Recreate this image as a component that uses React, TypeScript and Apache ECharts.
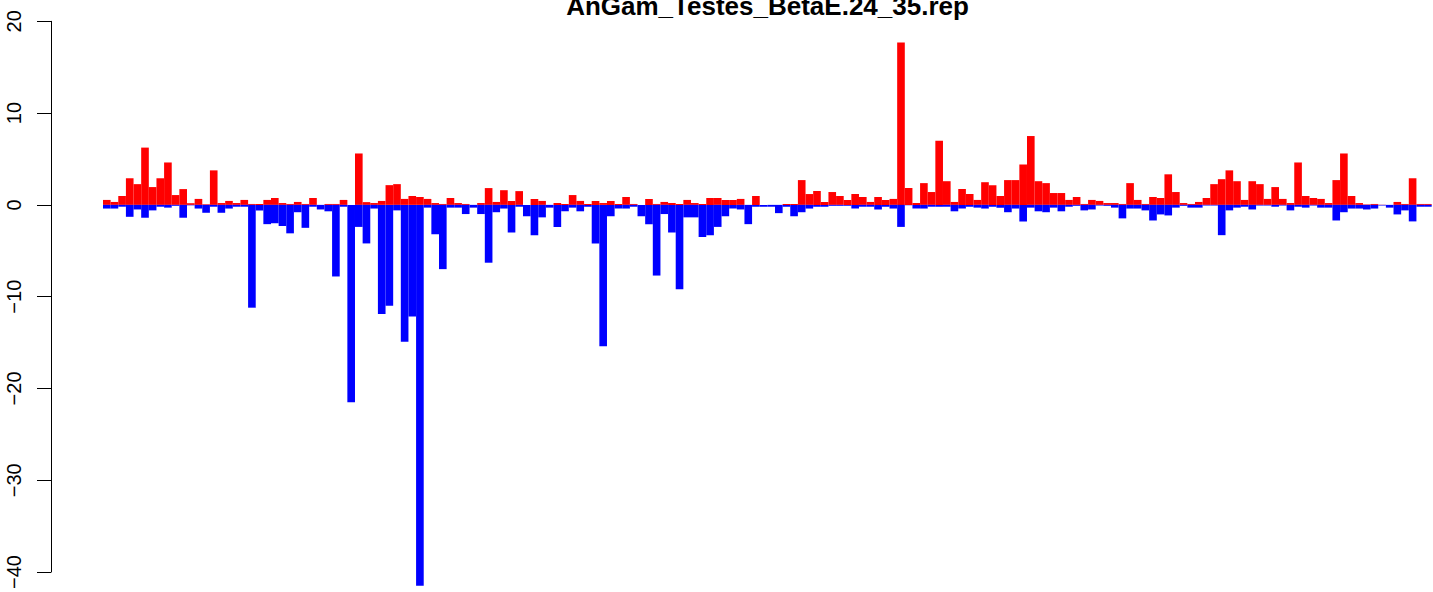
import React, { useEffect, useRef } from "react";
import * as echarts from "echarts";

const titleText = "AnGam_Testes_BetaE.24_35.rep";
const yTicks = [-40, -30, -20, -10, 0, 10, 20];

const redValues = [
  0.54, 0.32, 0.97, 2.9, 2.26, 6.24, 1.94, 2.9, 4.62, 1.07,
  1.72, 0.18, 0.65, 0.07, 3.76, 0.2, 0.43, 0.2, 0.54, 0.1,
  0.1, 0.54, 0.75, 0.2, 0.1, 0.32, 0.1, 0.75, 0, 0.1,
  0.1, 0.54, 0, 5.6, 0.3, 0.2, 0.43, 2.15, 2.26, 0.65,
  0.97, 0.86, 0.65, 0.2, 0.1, 0.75, 0.2, 0.1, 0, 0.2,
  1.83, 0.32, 1.6, 0.43, 1.5, 0, 0.65, 0.43, 0, 0.2,
  0.1, 1.07, 0.43, 0.1, 0.43, 0.2, 0.43, 0.1, 0.86, 0.1,
  0, 0.65, 0.1, 0.32, 0.2, 0.1, 0.54, 0.2, 0.1, 0.75,
  0.75, 0.54, 0.54, 0.65, 0, 0.97, 0, 0, 0, 0.1,
  0.1, 2.7, 1.18, 1.5, 0.32, 1.4, 0.97, 0.54, 1.18, 0.86,
  0.32, 0.86, 0.54, 0.65, 17.7, 1.83, 0.2, 2.37, 1.4, 7.0,
  2.58, 0.32, 1.72, 1.18, 0.54, 2.47, 2.15, 0.97, 2.7, 2.7,
  4.4, 7.5, 2.58, 2.37, 1.29, 1.29, 0.54, 0.86, 0.1, 0.54,
  0.43, 0.2, 0.2, 0.1, 2.37, 0.54, 0.1, 0.86, 0.75, 3.33,
  1.4, 0.2, 0.1, 0.32, 0.75, 2.26, 2.8, 3.76, 2.58, 0.54,
  2.58, 2.26, 0.65, 1.94, 0.65, 0.2, 4.62, 0.97, 0.75, 0.65,
  0.2, 2.7, 5.6, 0.97, 0.2, 0.05, 0.1, 0.02, 0, 0.32,
  0.1, 2.9, 0.1, 0.1,
];

const blueValues = [
  -0.4, -0.4, -0.2, -1.3, -0.5, -1.4, -0.6, -0.2, -0.3, -0.1,
  -1.4, -0.05, -0.4, -0.86, -0.2, -0.86, -0.4, -0.2, -0.2, -11.2,
  -0.6, -2.1, -2.0, -2.3, -3.1, -0.8, -2.5, -0.2, -0.5, -0.7,
  -7.8, -0.2, -21.5, -2.4, -4.2, -0.4, -11.9, -11.0, -0.6, -14.9,
  -12.15, -41.5, -0.3, -3.2, -7.0, -0.3, -0.3, -1.0, -0.3, -1.0,
  -6.3, -0.8, -0.4, -3.0, -0.2, -1.25, -3.3, -1.36, -0.3, -2.4,
  -0.7, -0.3, -0.7, -0.2, -4.2, -15.4, -1.25, -0.4, -0.4, -0.2,
  -1.25, -2.1, -7.7, -1.0, -3.0, -9.2, -1.36, -1.36, -3.5, -3.3,
  -2.4, -1.25, -0.4, -0.5, -2.1, -0.2, -0.2, -0.2, -0.9, -0.2,
  -1.25, -0.8, -0.4, -0.2, -0.2, -0.1, -0.1, -0.1, -0.4, -0.2,
  -0.2, -0.5, -0.2, -0.4, -2.4, -0.05, -0.4, -0.4, -0.2, -0.2,
  -0.2, -0.7, -0.4, -0.2, -0.3, -0.4, -0.2, -0.3, -0.8, -0.4,
  -1.8, -0.3, -0.7, -0.8, -0.3, -0.7, -0.2, -0.1, -0.6, -0.5,
  -0.07, -0.1, -0.3, -1.47, -0.4, -0.4, -0.6, -1.7, -1.04, -1.15,
  -0.3, -0.1, -0.3, -0.3, -0.07, -0.07, -3.3, -0.6, -0.3, -0.2,
  -0.5, -0.07, -0.07, -0.2, -0.07, -0.6, -0.2, -0.3, -0.07, -0.3,
  -0.3, -1.7, -0.8, -0.4, -0.4, -0.5, -0.4, -0.07, -0.3, -1.04,
  -0.6, -1.8, -0.2, -0.2,
];

const categories = redValues.map((_, i) => String(i + 1));

export default function App() {
  const ref = useRef<HTMLDivElement>(null);
  useEffect(() => {
    if (!ref.current) return;
    const chart = echarts.init(ref.current, null, { renderer: "svg" });
    const font = "'Liberation Sans', Arial, Helvetica, sans-serif";
    chart.setOption({
      animation: false,
      backgroundColor: "#ffffff",
      grid: { left: 103, right: 1.3, top: 21.3, bottom: 13.7, containLabel: false },
      xAxis: {
        type: "category",
        data: categories,
        show: false,
        boundaryGap: true,
      },
      yAxis: {
        type: "value",
        min: yTicks[0],
        max: yTicks[yTicks.length - 1],
        interval: 10,
        offset: 52,
        splitLine: { show: false },
        axisLine: { show: true, lineStyle: { color: "#000", width: 1 } },
        axisTick: { show: true, length: 14, lineStyle: { color: "#000", width: 1 } },
        axisLabel: {
          rotate: 90,
          margin: 27,
          fontSize: 20,
          fontFamily: font,
          color: "#000",
          formatter: (v: number) => String(v).replace("-", "\u2212"),
        },
      },
      series: [
        {
          type: "bar",
          data: redValues,
          barCategoryGap: "0%",
          barGap: "-100%",
          itemStyle: { color: "#ff0000" },
          clip: false,
        },
        {
          type: "bar",
          data: blueValues,
          barCategoryGap: "0%",
          barGap: "-100%",
          itemStyle: { color: "#0000ff" },
          clip: false,
        },
      ],
      graphic: [
        {
          type: "text",
          x: 767.5,
          y: 6,
          style: {
            text: titleText,
            font: `bold 26px ${font}`,
            fill: "#000",
            align: "center",
            verticalAlign: "middle",
          },
        },
      ],
    });
    return () => chart.dispose();
  }, []);
  return (
    <div
      ref={ref}
      style={{ position: "absolute", left: 0, top: 0, width: 1433, height: 592 }}
    />
  );
}
